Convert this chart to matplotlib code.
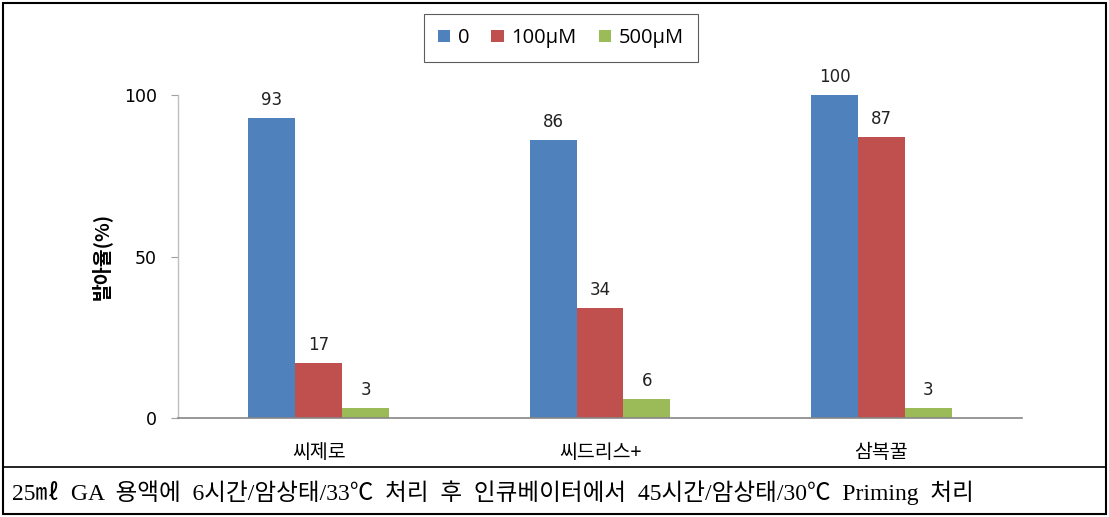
import matplotlib
matplotlib.use("Agg")
import matplotlib.pyplot as plt
from matplotlib.patches import Rectangle
from matplotlib.lines import Line2D
import numpy as np

plt.rcParams['font.family'] = ['Noto Sans CJK KR', 'DejaVu Sans']

categories = ['씨제로', '씨드리스+', '삼복꿀']
series_names = ['0', '100μM', '500μM']
values_0 = [93, 86, 100]
values_100 = [17, 34, 87]
values_500 = [3, 6, 3]
colors = ['#4F81BD', '#C0504D', '#9BBB59']
y_ticks = [0, 50, 100]
ylabel = '발아율(%)'
caption = '25㎖ GA 용액에 6시간/암상태/33℃ 처리 후 인큐베이터에서 45시간/암상태/30℃ Priming 처리'

W, H = 1109, 517
fig = plt.figure(figsize=(W / 100, H / 100), dpi=100)
ax = fig.add_axes([178 / W, 1 - 418 / H, (1022 - 178) / W, (418 - 95) / H])

x = np.arange(len(categories))
width = 1 / 6
all_series = [values_0, values_100, values_500]
for i, (name, vals, c) in enumerate(zip(series_names, all_series, colors)):
    bars = ax.bar(x + (i - 1) * width, vals, width, color=c, label=name)
    for b, v in zip(bars, vals):
        ax.text(b.get_x() + b.get_width() / 2, v + 2.8, str(v), ha='center',
                va='bottom', fontsize=12, family='DejaVu Sans', color='#222222')

ax.set_xlim(-0.5, len(categories) - 0.5)
ax.set_ylim(0, 100)
ax.set_yticks(y_ticks)
ax.set_yticklabels([str(t) for t in y_ticks], fontsize=12.5, family='DejaVu Sans')
ax.set_xticks(x)
ax.set_xticklabels(categories, fontsize=14)
ax.tick_params(axis='x', length=0, pad=17)
ax.tick_params(axis='y', length=5, color='#A0A0A0', pad=10, direction='out')
for s in ['top', 'right']:
    ax.spines[s].set_visible(False)
ax.spines['left'].set_color('#BFBFBF')
ax.spines['bottom'].set_color('#868686')
ax.spines['left'].set_linewidth(1.0)
ax.spines['bottom'].set_linewidth(1.2)
ax.set_ylabel(ylabel, fontsize=14, fontweight='bold', labelpad=9)

leg = fig.legend(loc='center', bbox_to_anchor=(561 / W, 1 - 38 / H), ncol=3,
                 frameon=True, fancybox=False, edgecolor='#333333',
                 handlelength=0.6, handleheight=0.6, columnspacing=1.1,
                 handletextpad=0.4, borderpad=0.7, borderaxespad=0,
                 prop={'family': 'Open Sans', 'size': 14.5})
leg.get_frame().set_linewidth(0.8)

# outer border and caption separator
fig.add_artist(Rectangle((3 / W, 3 / H), (W - 6) / W, (H - 6) / H, transform=fig.transFigure,
                         fill=False, edgecolor='black', linewidth=1.5))
fig.add_artist(Line2D([3 / W, (W - 3) / W], [1 - 467 / H, 1 - 467 / H], transform=fig.transFigure,
                      color='black', linewidth=1.2))
fig.text(12 / W, 1 - 493 / H, caption.replace(' ', '  '), ha='left', va='center', fontsize=17,
         family=['Liberation Serif', 'Noto Sans CJK KR'], color='black')

fig.savefig('out.png', dpi=100)
